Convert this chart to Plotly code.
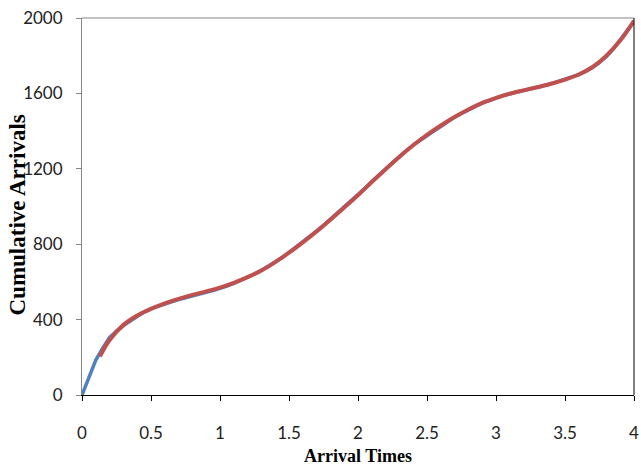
import plotly.graph_objects as go

# Observed cumulative arrival counts (sampled every 0.05 time units)
obs_times = [round(i * 0.05, 2) for i in range(81)]
obs_counts = [
    0, 95, 185, 248, 305, 338, 368, 392, 418, 440,
    458, 470, 484, 494, 506, 515, 526, 536, 545, 554,
    565, 578, 592, 608, 624, 642, 662, 682, 706, 728,
    756, 782, 812, 840, 870, 900, 932, 962, 995, 1028,
    1062, 1096, 1132, 1166, 1200, 1232, 1264, 1296, 1326, 1352,
    1378, 1400, 1424, 1450, 1474, 1494, 1513, 1532, 1548, 1562,
    1576, 1588, 1598, 1606, 1614, 1624, 1634, 1642, 1652, 1664,
    1678, 1690, 1700, 1718, 1738, 1764, 1796, 1836, 1882, 1932,
    1980,
]

# Fitted cumulative intensity curve
fit_times = [0.13, 0.2, 0.3, 0.4, 0.5, 0.6, 0.7, 0.8, 0.9, 1.0,
             1.1, 1.2, 1.3, 1.4, 1.5, 1.6, 1.7, 1.8, 1.9, 2.0,
             2.1, 2.2, 2.3, 2.4, 2.5, 2.6, 2.7, 2.8, 2.9, 3.0,
             3.1, 3.2, 3.3, 3.4, 3.5, 3.6, 3.7, 3.8, 3.9, 4.0]
fit_counts = [205, 292, 372, 422, 457, 486, 510, 531, 550, 570,
              595, 625, 660, 705, 755, 810, 868, 930, 995, 1060,
              1130, 1198, 1264, 1325, 1380, 1430, 1475, 1515, 1550, 1576,
              1598, 1616, 1633, 1651, 1673, 1700, 1740, 1800, 1880, 1985]

x_ticks = [0, 0.5, 1, 1.5, 2, 2.5, 3, 3.5, 4]
x_tick_text = ["0", "0.5", "1", "1.5", "2", "2.5", "3", "3.5", "4"]
y_ticks = [0, 400, 800, 1200, 1600, 2000]
y_tick_text = ["0", "400", "800", "1200", "1600", "2000"]

fig = go.Figure()
fig.add_trace(go.Scatter(
    x=obs_times, y=obs_counts, mode="lines",
    line=dict(color="#4F81BD", width=3.5),
    showlegend=False, hoverinfo="skip",
))
fig.add_trace(go.Scatter(
    x=fit_times, y=fit_counts, mode="lines",
    line=dict(color="#C0504D", width=4, shape="spline"),
    showlegend=False, hoverinfo="skip",
))

tick_font = dict(family="Lato, 'Open Sans', sans-serif", size=17, color="#222222")
title_font = dict(family="'Liberation Serif', 'Times New Roman', serif", size=18, color="#000000")

fig.update_layout(
    width=641, height=467,
    margin=dict(l=82, r=7, t=18, b=72),
    paper_bgcolor="white", plot_bgcolor="white",
    xaxis=dict(
        range=[0, 4], tickvals=x_ticks, ticktext=x_tick_text,
        showgrid=False, zeroline=False, automargin=False,
        showline=True, linecolor="#000000", linewidth=1,
        ticks="outside", ticklen=5, tickcolor="#000000",
        tickfont=tick_font, ticklabeloverflow="allow",
        ticklabelstandoff=18,
        title=dict(text="<b>Arrival Times</b>", font=title_font, standoff=6),
    ),
    yaxis=dict(
        range=[0, 2000], tickvals=y_ticks, ticktext=y_tick_text,
        showgrid=False, zeroline=False, automargin=False,
        showline=True, linecolor="#868686", linewidth=1,
        ticks="outside", ticklen=5, tickcolor="#868686",
        tickfont=tick_font, ticklabelstandoff=10,
    ),
    annotations=[
        dict(text="<b>Cumulative Arrivals</b>", textangle=-90,
             xref="paper", yref="paper", x=0, y=0.5,
             xanchor="center", yanchor="middle", xshift=-65, yshift=-9,
             showarrow=False, font=dict(title_font, size=23)),
    ],
    shapes=[
        # top and right borders of the plotting area
        dict(type="line", xref="paper", yref="paper", x0=0, x1=1, y0=1, y1=1,
             line=dict(color="#868686", width=1)),
        dict(type="line", xref="paper", yref="paper", x0=1, x1=1, y0=0, y1=1,
             line=dict(color="#000000", width=1)),
    ],
)

fig.write_html("out.html")
